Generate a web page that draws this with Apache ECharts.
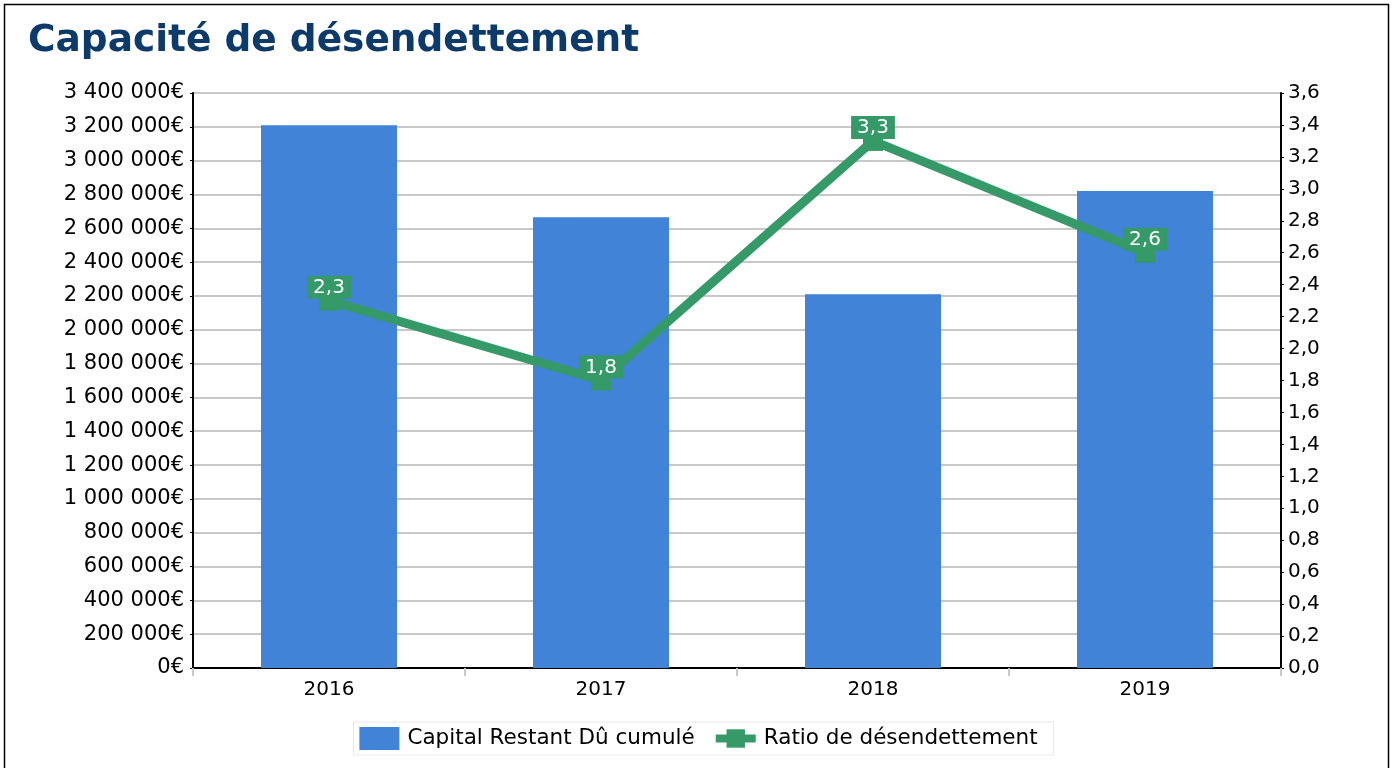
<!DOCTYPE html>
<html><head><meta charset="utf-8">
<script src="https://cdn.jsdelivr.net/npm/echarts@6/dist/echarts.min.js"></script>
<style>html,body{margin:0;padding:0;background:#fff}#c{width:1397px;height:768px}</style>
</head><body><div id="c"></div>
<script>
const categories = ['2016','2017','2018','2019'];
const capitalValues = [3210000, 2665000, 2210000, 2820000];
const ratioValues = [2.3, 1.8, 3.3, 2.6];
const titleText = 'Capacité de désendettement';
const seriesNames = ['Capital Restant Dû cumulé', 'Ratio de désendettement'];

const FONT = 'DejaVu Sans';
const GREEN = '#359a68';
const chart = echarts.init(document.getElementById('c'));
function euro(v){ return String(Math.round(v)).replace(/\B(?=(\d{3})+(?!\d))/g,' ') + '€'; }
function comma(v){ return Number(v).toFixed(1).replace('.',','); }
chart.setOption({
  animation:false,
  textStyle:{fontFamily:FONT},
  graphic:[{type:'rect',shape:{x:4.5,y:4.5,width:1384,height:800},style:{fill:'none',stroke:'#000',lineWidth:1.5},silent:true}],
  title:{text:titleText,left:23,top:17,textStyle:{fontFamily:FONT,fontSize:37.5,fontWeight:'bold',color:'#0b3a6b'}},
  grid:{left:193,right:116,top:93,bottom:100,containLabel:false},
  legend:{bottom:13,left:'center',itemWidth:40,itemHeight:23,itemGap:17,padding:[5,16,5,6],
    borderColor:'#e8e8e8',borderWidth:1,
    textStyle:{fontFamily:FONT,fontSize:21.5,color:'#000',padding:[0,0,0,3]},
    data:[{name:seriesNames[0],icon:'rect'},
          {name:seriesNames[1],lineStyle:{width:8,color:GREEN},itemStyle:{color:GREEN}}]},
  xAxis:{type:'category',data:categories,
    axisLine:{lineStyle:{color:'#000',width:2}},
    axisTick:{show:true,length:8,lineStyle:{color:'#c8c8c8',width:2}},
    axisLabel:{fontFamily:FONT,fontSize:20,color:'#000',margin:12}},
  yAxis:[{type:'value',min:0,max:3400000,interval:200000,
    axisLine:{show:true,lineStyle:{color:'#000',width:2}},
    axisTick:{show:true,length:3,lineStyle:{color:'#000'}},
    splitLine:{lineStyle:{color:'#c8c8c8',width:2}},
    axisLabel:{fontFamily:FONT,fontSize:21,color:'#000',margin:9,formatter:euro}},
   {type:'value',min:0,max:3.6,interval:0.2,position:'right',
    axisLine:{show:true,lineStyle:{color:'#000',width:2}},
    axisTick:{show:true,length:3,lineStyle:{color:'#000'}},
    splitLine:{show:false},
    axisLabel:{fontFamily:FONT,fontSize:20,color:'#000',margin:7,formatter:comma}}],
  series:[
    {name:seriesNames[0],type:'bar',data:capitalValues,barWidth:'50%',itemStyle:{color:'#4183d7'}},
    {name:seriesNames[1],type:'line',yAxisIndex:1,data:ratioValues,
     symbol:'rect',symbolSize:20,
     lineStyle:{color:GREEN,width:9},itemStyle:{color:GREEN},
     label:{show:true,position:'top',distance:-8,color:'#fff',backgroundColor:GREEN,
       padding:[2,6,1,6],fontFamily:FONT,fontSize:20,
       formatter:p=>comma(p.value)}}
  ]
});
</script></body></html>
